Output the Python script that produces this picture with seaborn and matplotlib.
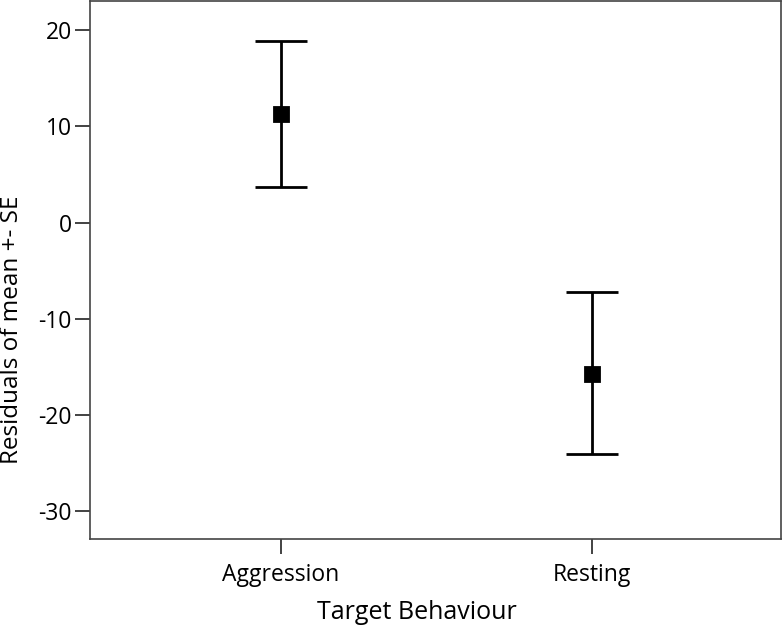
import matplotlib
matplotlib.use("Agg")
import matplotlib.pyplot as plt
import seaborn as sns
import pandas as pd

behaviours = ["Aggression", "Resting"]
means = [11.3, -15.7]
upper = [18.9, -7.2]
lower = [3.7, -24.1]

sns.set_style("white")
plt.rcParams['font.family'] = ['Open Sans', 'DejaVu Sans']
plt.rcParams['axes.unicode_minus'] = False

df = pd.DataFrame({"behaviour": behaviours, "mean": means})

fig = plt.figure(figsize=(7.83, 6.29), dpi=100)
ax = fig.add_axes([0.115, 0.143, 0.8825, 0.855])

sns.pointplot(data=df, x="behaviour", y="mean", errorbar=None, linestyle="none",
              marker="s", markersize=10, color="black", ax=ax, zorder=3)
err_lo = [m - l for m, l in zip(means, lower)]
err_hi = [u - m for m, u in zip(means, upper)]
ax.errorbar(range(len(behaviours)), means, yerr=[err_lo, err_hi], fmt="none",
            ecolor="black", elinewidth=2, capsize=19, capthick=2, zorder=2)

ax.set_xlim(-0.615, 1.61)
ax.set_ylim(-32.9, 23.0)
ax.set_yticks([20, 10, 0, -10, -20, -30])
ax.set_xlabel("Target Behaviour", fontsize=18, color="black")
ax.set_ylabel("Residuals of mean +- SE", fontsize=17.5, color="black")
ax.xaxis.set_label_coords(0.473, -0.136, transform=ax.transAxes)
ax.xaxis.label.set_va("center")
ax.yaxis.set_label_coords(-0.113, 0.39, transform=ax.transAxes)
ax.yaxis.label.set_va("center")
ax.tick_params(axis="both", labelsize=16.5, length=11, width=1.2, color="#222222",
               labelcolor="black", direction="out", bottom=True, left=True)
ax.tick_params(axis="x", pad=6)
ax.tick_params(axis="y", pad=2)
for s in ax.spines.values():
    s.set_color("#444444")
    s.set_linewidth(1.2)

fig.savefig("out.png", dpi=100)
